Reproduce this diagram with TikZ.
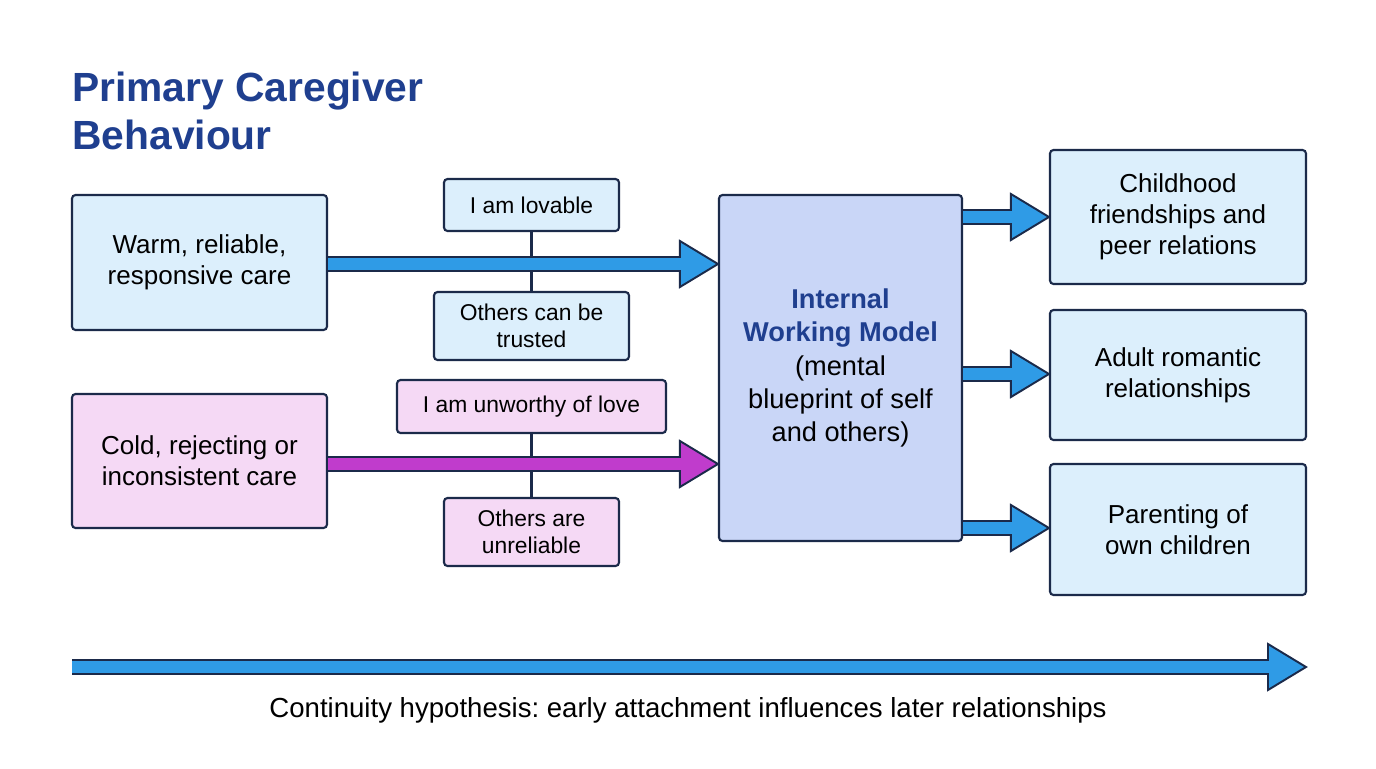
\documentclass[tikz,border=0pt]{standalone}
\usepackage{fontspec}
\setmainfont{Liberation Sans}
\usetikzlibrary{calc}
\frenchspacing
\definecolor{navy}{HTML}{1B2A4A}
\definecolor{ttl}{HTML}{1F3F8F}
\definecolor{lblue}{HTML}{DCEFFC}
\definecolor{lpink}{HTML}{F5D9F5}
\definecolor{iwm}{HTML}{C9D6F7}
\definecolor{ablue}{HTML}{2F9BE6}
\definecolor{apurp}{HTML}{C03CCC}
\tikzset{
 box/.style={draw=navy,line width=1.2pt,rounded corners=2pt,align=center,inner sep=0pt,font=\fontsize{14.8}{17.5}\selectfont},
 sbox/.style={box,font=\fontsize{13}{15.5}\selectfont},
 bl/.style={box,fill=lblue},
 pk/.style={box,fill=lpink},
 sbl/.style={sbox,fill=lblue},
 spk/.style={sbox,fill=lpink},
 barr/.style={draw=navy,line width=1.1pt,line join=miter}
}
\newcommand\barrow[6]{% from, to, color, half shaft, half head, head length
 \fill[#3] ($(#1)+(0,#4)$) -- ($(#2)+(-#6,#4)$) -- ($(#2)+(-#6,#5)$) -- (#2) -- ($(#2)+(-#6,-#5)$) -- ($(#2)+(-#6,-#4)$) -- ($(#1)+(0,-#4)$) -- cycle;
 \draw[barr] ($(#1)+(0,#4)$) -- ($(#2)+(-#6,#4)$) -- ($(#2)+(-#6,#5)$) -- (#2) -- ($(#2)+(-#6,-#5)$) -- ($(#2)+(-#6,-#4)$) -- ($(#1)+(0,-#4)$);}
\begin{document}
\begin{tikzpicture}[x=0.02cm,y=-0.02cm]
\useasboundingbox[fill=white] (0,0) rectangle (1376,768);
\node[anchor=north west,align=left,text=ttl,font=\fontsize{23.2}{27}\selectfont\bfseries,inner sep=0pt] (title) at (72,72) {Primary Caregiver\\Behaviour};
\node[bl,minimum width=255*0.02cm,minimum height=135*0.02cm] (warm) at (199.5,262.5) {Warm, reliable,\\responsive care};
\node[pk,minimum width=255*0.02cm,minimum height=134*0.02cm] (cold) at (199.5,461) {Cold, rejecting or\\inconsistent care};
\node[sbl,minimum width=175*0.02cm,minimum height=52*0.02cm] (lov) at (531.5,205) {I am lovable};
\node[sbl,minimum width=195*0.02cm,minimum height=68*0.02cm] (trust) at (531.5,326) {Others can be\\trusted};
\node[spk,minimum width=269*0.02cm,minimum height=53*0.02cm] (unw) at (531.5,406.5) {I am unworthy of love};
\node[spk,minimum width=175*0.02cm,minimum height=68*0.02cm] (unr) at (531.5,532) {Others are\\unreliable};
\node[box,fill=iwm,minimum width=243*0.02cm,minimum height=346*0.02cm,font=\fontsize{15.5}{19}\selectfont] (iwm) at (840.5,368) {{\bfseries\color{ttl}Internal}\\{\bfseries\color{ttl}Working Model}\\(mental\\blueprint of self\\and others)};
\node[bl,minimum width=256*0.02cm,minimum height=134*0.02cm] (r1) at (1178,217) {Childhood\\friendships and\\peer relations};
\node[bl,minimum width=256*0.02cm,minimum height=130*0.02cm] (r2) at (1178,375) {Adult romantic\\relationships};
\node[bl,minimum width=256*0.02cm,minimum height=131*0.02cm] (r3) at (1178,529.5) {Parenting of\\own children};
\draw[navy,line width=1.2pt] (lov.south) -- (trust.north);
\draw[navy,line width=1.2pt] (unw.south) -- (unr.north);
\coordinate (a1s) at (warm.east |- 0,264); \coordinate (a1e) at (iwm.west |- 0,264);
\barrow{a1s}{a1e}{ablue}{7}{23}{38}
\coordinate (a2s) at (cold.east |- 0,464); \coordinate (a2e) at (iwm.west |- 0,464);
\barrow{a2s}{a2e}{apurp}{7}{23}{38}
\foreach \y/\n in {217/r1,374/r2,528/r3}{
 \coordinate (s) at (iwm.east |- 0,\y); \coordinate (e) at (\n.west |- 0,\y);
 \barrow{s}{e}{ablue}{7}{23}{38}}
\coordinate (bs) at (72,667); \coordinate (be) at (1306,667);
\barrow{bs}{be}{ablue}{7}{23}{38}
\node[font=\fontsize{15.7}{18}\selectfont,inner sep=0pt] (cap) at (688,710) {Continuity hypothesis: early attachment influences later relationships};
\end{tikzpicture}
\end{document}
